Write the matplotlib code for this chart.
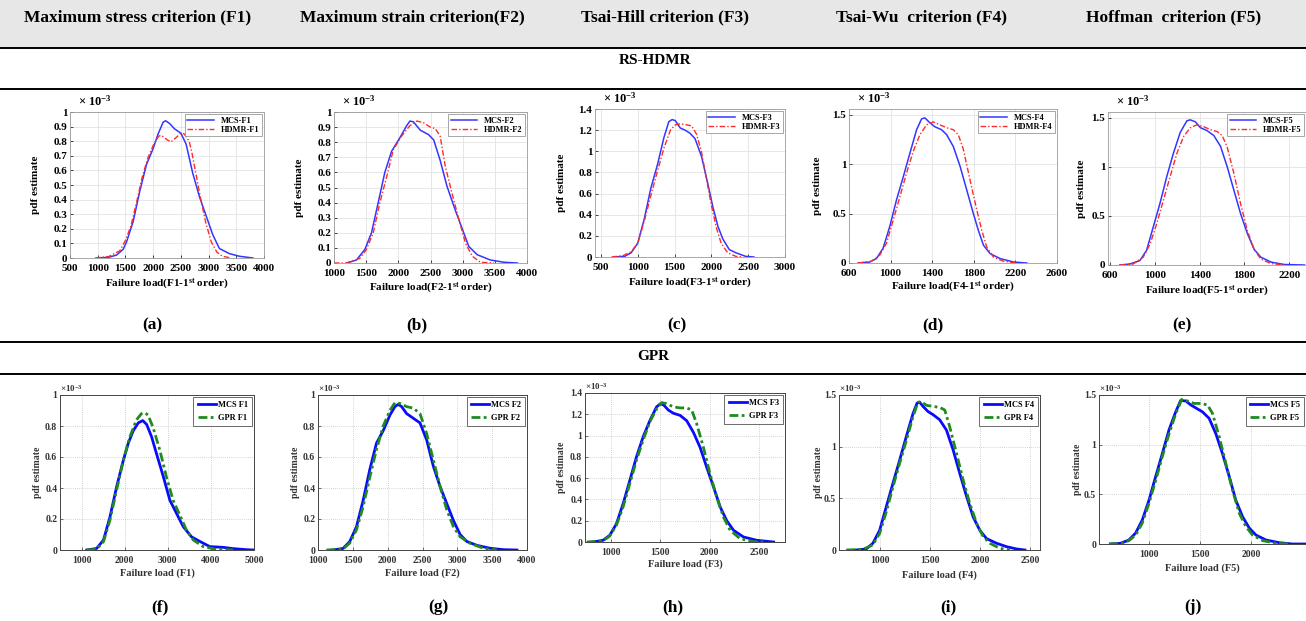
import matplotlib
matplotlib.use('Agg')
import matplotlib.pyplot as plt
from matplotlib.ticker import FuncFormatter, FixedLocator
from matplotlib.patches import Rectangle
from matplotlib.lines import Line2D

plt.rcParams['font.family'] = ['Liberation Serif', 'DejaVu Serif']
plt.rcParams['font.weight'] = 'bold'
plt.rcParams['mathtext.fontset'] = 'custom'
plt.rcParams['mathtext.rm'] = 'Liberation Serif:bold'
plt.rcParams['mathtext.it'] = 'Liberation Serif:italic:bold'
plt.rcParams['mathtext.bf'] = 'Liberation Serif:bold'

# ---------------- data (pdf values in units of 1e-3) ----------------
headers = ["Maximum stress criterion (F1)", "Maximum strain criterion(F2)",
           "Tsai-Hill criterion (F3)", "Tsai-Wu  criterion (F4)", "Hoffman  criterion (F5)"]
panel_letters = ["(a)", "(b)", "(c)", "(d)", "(e)", "(f)", "(g)", "(h)", "(i)", "(j)"]

a_xticks = [500, 1000, 1500, 2000, 2500, 3000, 3500, 4000]
b_xticks = [1000, 1500, 2000, 2500, 3000, 3500, 4000]
c_xticks = [500, 1000, 1500, 2000, 2500, 3000]
d_xticks = [600, 1000, 1400, 1800, 2200, 2600]
e_xticks = [600, 1000, 1400, 1800, 2200]
f_xticks = [1000, 2000, 3000, 4000, 5000]
g_xticks = [1000, 1500, 2000, 2500, 3000, 3500, 4000]
h_xticks = [1000, 1500, 2000, 2500]
i_xticks = [1000, 1500, 2000, 2500]
j_xticks = [1000, 1500, 2000]

a_yticks = [0, 0.1, 0.2, 0.3, 0.4, 0.5, 0.6, 0.7, 0.8, 0.9, 1.0]
b_yticks = [0, 0.1, 0.2, 0.3, 0.4, 0.5, 0.6, 0.7, 0.8, 0.9, 1.0]
c_yticks = [0, 0.2, 0.4, 0.6, 0.8, 1.0, 1.2, 1.4]
d_yticks = [0, 0.5, 1.0, 1.5]
e_yticks = [0, 0.5, 1.0, 1.5]
f_yticks = [0, 0.2, 0.4, 0.6, 0.8, 1.0]
g_yticks = [0, 0.2, 0.4, 0.6, 0.8, 1.0]
h_yticks = [0, 0.2, 0.4, 0.6, 0.8, 1.0, 1.2, 1.4]
i_yticks = [0, 0.5, 1.0, 1.5]
j_yticks = [0, 0.5, 1.0, 1.5]

a_mcs_x = [1000, 1200, 1340, 1460, 1520, 1640, 1760, 1880, 2000, 2090, 2180, 2225, 2300, 2385, 2500, 2595, 2715, 2835, 2955, 3075, 3195, 3375, 3555, 3800]
a_mcs_y = [0, 0.005, 0.02, 0.06, 0.11, 0.25, 0.46, 0.64, 0.75, 0.85, 0.93, 0.94, 0.92, 0.885, 0.855, 0.78, 0.58, 0.42, 0.29, 0.16, 0.065, 0.03, 0.012, 0]
a_hdmr_x = [950, 1200, 1400, 1500, 1600, 1700, 1800, 1900, 2000, 2100, 2150, 2250, 2320, 2400, 2500, 2560, 2650, 2700, 2750, 2850, 2950, 3050, 3150, 3250, 3400]
a_hdmr_y = [0, 0.01, 0.05, 0.12, 0.22, 0.38, 0.55, 0.68, 0.77, 0.835, 0.84, 0.81, 0.795, 0.82, 0.855, 0.85, 0.80, 0.72, 0.62, 0.42, 0.24, 0.11, 0.04, 0.012, 0]

b_mcs_x = [1200, 1350, 1480, 1583, 1687, 1790, 1895, 2025, 2130, 2180, 2235, 2340, 2470, 2550, 2650, 2755, 2885, 2990, 3095, 3225, 3430, 3640, 3850]
b_mcs_y = [0, 0.02, 0.09, 0.2, 0.4, 0.6, 0.74, 0.83, 0.91, 0.94, 0.935, 0.88, 0.85, 0.815, 0.68, 0.51, 0.35, 0.23, 0.11, 0.055, 0.02, 0.005, 0]
b_hdmr_x = [1000, 1190, 1400, 1505, 1610, 1713, 1818, 1922, 2050, 2180, 2285, 2390, 2495, 2575, 2650, 2730, 2835, 2940, 3045, 3150, 3275, 3485]
b_hdmr_y = [0, 0, 0.03, 0.09, 0.2, 0.4, 0.57, 0.75, 0.84, 0.91, 0.94, 0.93, 0.9, 0.89, 0.84, 0.64, 0.46, 0.29, 0.13, 0.045, 0.005, 0]

c_mcs_x = [667, 822, 911, 1000, 1089, 1178, 1267, 1356, 1422, 1467, 1511, 1578, 1644, 1711, 1778, 1867, 1956, 2022, 2089, 2156, 2244, 2333, 2467, 2578]
c_mcs_y = [0, 0.006, 0.04, 0.13, 0.36, 0.65, 0.87, 1.13, 1.28, 1.3, 1.29, 1.22, 1.2, 1.17, 1.12, 0.95, 0.68, 0.47, 0.29, 0.17, 0.07, 0.04, 0.006, 0]
c_hdmr_x = [644, 800, 911, 1000, 1089, 1178, 1267, 1356, 1444, 1511, 1578, 1667, 1733, 1800, 1867, 1933, 2000, 2067, 2133, 2222, 2333, 2422]
c_hdmr_y = [0, 0.013, 0.05, 0.13, 0.34, 0.58, 0.81, 1.03, 1.2, 1.25, 1.26, 1.25, 1.24, 1.16, 0.99, 0.74, 0.49, 0.28, 0.13, 0.04, 0.006, 0]

d_mcs_x = [687, 800, 864, 928, 992, 1057, 1121, 1185, 1250, 1298, 1330, 1378, 1426, 1490, 1539, 1603, 1668, 1732, 1796, 1844, 1893, 1957, 2053, 2182, 2310]
d_mcs_y = [0, 0.01, 0.045, 0.15, 0.37, 0.64, 0.87, 1.11, 1.35, 1.46, 1.47, 1.42, 1.38, 1.35, 1.3, 1.18, 0.98, 0.74, 0.5, 0.33, 0.18, 0.095, 0.045, 0.01, 0]
d_hdmr_x = [687, 815, 896, 960, 1024, 1089, 1153, 1217, 1282, 1346, 1410, 1474, 1539, 1603, 1651, 1700, 1764, 1828, 1877, 1925, 1989, 2086, 2214]
d_hdmr_y = [0, 0.017, 0.08, 0.2, 0.43, 0.67, 0.91, 1.13, 1.3, 1.4, 1.43, 1.4, 1.37, 1.35, 1.3, 1.15, 0.84, 0.54, 0.33, 0.16, 0.06, 0.017, 0]

e_mcs_x = [685, 775, 865, 925, 985, 1045, 1105, 1165, 1225, 1285, 1315, 1361, 1406, 1466, 1526, 1586, 1646, 1706, 1766, 1826, 1886, 1946, 2036, 2157, 2337]
e_mcs_y = [0, 0.01, 0.045, 0.15, 0.39, 0.63, 0.9, 1.14, 1.35, 1.47, 1.48, 1.46, 1.4, 1.37, 1.32, 1.21, 1.0, 0.76, 0.52, 0.32, 0.16, 0.08, 0.03, 0.005, 0]
e_hdmr_x = [690, 805, 895, 955, 1015, 1075, 1135, 1196, 1256, 1316, 1376, 1436, 1496, 1556, 1601, 1646, 1706, 1766, 1826, 1886, 1946, 2036, 2157]
e_hdmr_y = [0, 0.01, 0.08, 0.21, 0.42, 0.66, 0.9, 1.14, 1.31, 1.4, 1.43, 1.41, 1.38, 1.36, 1.32, 1.2, 0.93, 0.62, 0.35, 0.16, 0.06, 0.015, 0]

f_mcs_x = [1120, 1350, 1510, 1660, 1815, 1970, 2085, 2200, 2315, 2420, 2510, 2625, 2740, 2900, 3050, 3205, 3360, 3550, 3745, 3975, 4285, 4515, 4825, 5000]
f_mcs_y = [0, 0.01, 0.065, 0.215, 0.41, 0.58, 0.69, 0.77, 0.82, 0.835, 0.81, 0.73, 0.62, 0.47, 0.32, 0.235, 0.15, 0.085, 0.055, 0.022, 0.017, 0.009, 0.002, 0]
f_gpr_x = [1120, 1350, 1510, 1660, 1815, 1970, 2120, 2275, 2390, 2470, 2545, 2665, 2815, 2970, 3125, 3280, 3430, 3590, 3820, 4130, 4515]
f_gpr_y = [0, 0.005, 0.055, 0.195, 0.39, 0.58, 0.73, 0.84, 0.88, 0.885, 0.87, 0.785, 0.645, 0.47, 0.32, 0.225, 0.13, 0.065, 0.022, 0.004, 0]

g_mcs_x = [1216, 1360, 1456, 1552, 1648, 1744, 1840, 1936, 2032, 2104, 2152, 2200, 2272, 2368, 2464, 2560, 2656, 2752, 2848, 2944, 3040, 3136, 3280, 3472, 3664, 3856]
g_mcs_y = [0, 0.01, 0.055, 0.15, 0.32, 0.52, 0.69, 0.77, 0.87, 0.925, 0.94, 0.925, 0.88, 0.85, 0.82, 0.71, 0.54, 0.41, 0.3, 0.19, 0.1, 0.055, 0.03, 0.011, 0.002, 0]
g_gpr_x = [1120, 1360, 1456, 1552, 1648, 1744, 1840, 1936, 2032, 2104, 2176, 2272, 2368, 2464, 2560, 2656, 2752, 2848, 2944, 3040, 3184, 3376, 3568]
g_gpr_y = [0, 0.006, 0.045, 0.13, 0.28, 0.47, 0.65, 0.8, 0.9, 0.95, 0.946, 0.925, 0.915, 0.88, 0.75, 0.58, 0.41, 0.26, 0.15, 0.085, 0.043, 0.011, 0]

h_mcs_x = [824, 922, 990, 1057, 1125, 1193, 1260, 1328, 1395, 1463, 1503, 1537, 1581, 1632, 1700, 1767, 1835, 1902, 1970, 2037, 2105, 2172, 2240, 2341, 2476, 2645]
h_mcs_y = [0, 0.016, 0.063, 0.17, 0.36, 0.58, 0.8, 0.99, 1.14, 1.27, 1.3, 1.285, 1.24, 1.21, 1.19, 1.14, 1.03, 0.89, 0.7, 0.52, 0.33, 0.2, 0.11, 0.047, 0.016, 0]
h_gpr_x = [757, 922, 990, 1057, 1125, 1193, 1260, 1328, 1395, 1463, 1514, 1564, 1632, 1700, 1767, 1818, 1868, 1936, 2003, 2071, 2138, 2206, 2307, 2442, 2544]
h_gpr_y = [0, 0.01, 0.056, 0.157, 0.33, 0.55, 0.77, 0.96, 1.13, 1.25, 1.31, 1.3, 1.27, 1.26, 1.26, 1.24, 1.11, 0.89, 0.64, 0.42, 0.235, 0.11, 0.031, 0.003, 0]

i_mcs_x = [767, 867, 933, 1000, 1067, 1133, 1200, 1267, 1333, 1373, 1400, 1433, 1483, 1533, 1600, 1667, 1733, 1800, 1867, 1933, 2000, 2067, 2167, 2267, 2367, 2450]
i_mcs_y = [0, 0.01, 0.065, 0.19, 0.42, 0.645, 0.87, 1.1, 1.32, 1.42, 1.43, 1.39, 1.34, 1.31, 1.26, 1.16, 0.97, 0.74, 0.52, 0.32, 0.19, 0.11, 0.065, 0.032, 0.01, 0]
i_gpr_x = [667, 833, 933, 1000, 1067, 1133, 1200, 1267, 1333, 1383, 1417, 1467, 1533, 1600, 1650, 1700, 1767, 1833, 1900, 1967, 2033, 2100, 2200, 2300]
i_gpr_y = [0, 0.006, 0.05, 0.16, 0.37, 0.61, 0.84, 1.06, 1.29, 1.43, 1.435, 1.4, 1.39, 1.38, 1.355, 1.19, 0.935, 0.68, 0.45, 0.26, 0.13, 0.065, 0.016, 0]

j_mcs_x = [623, 721, 803, 869, 934, 1000, 1066, 1131, 1197, 1262, 1311, 1361, 1410, 1459, 1525, 1590, 1656, 1721, 1787, 1852, 1918, 1984, 2049, 2148, 2279, 2410, 2540]
j_mcs_y = [0, 0.007, 0.04, 0.11, 0.24, 0.44, 0.68, 0.91, 1.15, 1.33, 1.445, 1.44, 1.4, 1.37, 1.33, 1.265, 1.11, 0.91, 0.68, 0.44, 0.275, 0.16, 0.09, 0.04, 0.013, 0, 0]
j_gpr_x = [607, 738, 803, 869, 934, 1000, 1066, 1131, 1197, 1262, 1321, 1377, 1443, 1508, 1574, 1623, 1689, 1754, 1820, 1885, 1951, 2016, 2115, 2246, 2377]
j_gpr_y = [0, 0.007, 0.034, 0.09, 0.21, 0.41, 0.64, 0.88, 1.11, 1.31, 1.455, 1.44, 1.415, 1.415, 1.4, 1.315, 1.08, 0.81, 0.54, 0.31, 0.175, 0.09, 0.034, 0.007, 0]

series_top = [(a_mcs_x, a_mcs_y, a_hdmr_x, a_hdmr_y), (b_mcs_x, b_mcs_y, b_hdmr_x, b_hdmr_y),
              (c_mcs_x, c_mcs_y, c_hdmr_x, c_hdmr_y), (d_mcs_x, d_mcs_y, d_hdmr_x, d_hdmr_y),
              (e_mcs_x, e_mcs_y, e_hdmr_x, e_hdmr_y)]
series_bot = [(f_mcs_x, f_mcs_y, f_gpr_x, f_gpr_y), (g_mcs_x, g_mcs_y, g_gpr_x, g_gpr_y),
              (h_mcs_x, h_mcs_y, h_gpr_x, h_gpr_y), (i_mcs_x, i_mcs_y, i_gpr_x, i_gpr_y),
              (j_mcs_x, j_mcs_y, j_gpr_x, j_gpr_y)]
ticks_top = [(a_xticks, a_yticks), (b_xticks, b_yticks), (c_xticks, c_yticks), (d_xticks, d_yticks), (e_xticks, e_yticks)]
ticks_bot = [(f_xticks, f_yticks), (g_xticks, g_yticks), (h_xticks, h_yticks), (i_xticks, i_yticks), (j_xticks, j_yticks)]

# ---------------- layout (pixels) ----------------
W, H = 1306, 621
fig = plt.figure(figsize=(W / 100, H / 100), dpi=100)

def px_axes(x1, y1, x2, y2):
    return fig.add_axes([x1 / W, 1 - y2 / H, (x2 - x1) / W, (y2 - y1) / H])

def hline(y, lw=1.4):
    fig.add_artist(Line2D([0, 1], [1 - y / H, 1 - y / H], transform=fig.transFigure,
                          color='black', lw=lw))

fig.patches.append(Rectangle((0, 1 - 47 / H), 1, 47 / H, transform=fig.transFigure,
                             facecolor='#e7e7e7', edgecolor='none', zorder=0))
hline(48)
hline(89)
hline(342)
hline(374)

header_cx = [138, 412, 665, 921, 1174]
for t, cx in zip(headers, header_cx):
    fig.text(cx / W, 1 - 17 / H, t, ha='center', va='center', fontsize=12.5, fontweight='bold')
fig.text(655 / W, 1 - 61 / H, "RS-HDMR", ha='center', va='center', fontsize=11, fontweight='bold')
fig.text(653 / W, 1 - 357 / H, "GPR", ha='center', va='center', fontsize=11, fontweight='bold')

fmt = FuncFormatter(lambda v, p: ('%g' % round(v, 4)))

# box (px), xlim, ylim, ylabel centre x (px), xlabel centre y (px)
top_cfg = [
    ((70, 112, 264, 258), (500, 4000), (0, 1.0), 35, 284),
    ((334, 112, 527, 263), (1000, 4000), (0, 1.0), 300, 288),
    ((595, 109, 785, 257), (420, 3000), (0, 1.4), 562, 283),
    ((849, 109, 1057, 263), (600, 2600), (0, 1.56), 818, 287),
    ((1108, 112, 1306, 265), (580, 2350), (0, 1.56), 1082, 291),
]
bot_cfg = [
    ((60, 395, 254, 550), (500, 5000), (0, 1.0), 37, 573),
    ((318, 395, 527, 550), (1000, 4000), (0, 1.0), 295, 573),
    ((585, 393, 785, 542), (740, 2760), (0, 1.4), 562, 564),
    ((839, 395, 1040, 550), (595, 2600), (0, 1.5), 818, 575),
    ((1099, 395, 1306, 544), (510, 2540), (0, 1.5), 1078, 568),
]
top_letter_pos = [(152, 325), (417, 325), (677, 325), (933, 325), (1182, 325)]
bot_letter_pos = [(160, 607), (438, 607), (673, 607), (948, 607), (1193, 607)]

def style_axes(ax, cfg, ticks, row, xl_text):
    (x1, y1, x2, y2), xlim, ylim, ylx, xly = cfg
    wpx, hpx = x2 - x1, y2 - y1
    ax.set_xlim(*xlim)
    ax.set_ylim(*ylim)
    ax.xaxis.set_major_locator(FixedLocator(ticks[0]))
    ax.yaxis.set_major_locator(FixedLocator(ticks[1]))
    ax.xaxis.set_major_formatter(fmt)
    ax.yaxis.set_major_formatter(fmt)
    tc = 'black' if row == 0 else '#333333'
    ax.tick_params(direction='in', length=2, width=0.5, labelsize=8 if row == 0 else 7,
                   colors=tc, pad=2)
    ax.tick_params(axis='x', pad=4)
    for lab in ax.get_xticklabels() + ax.get_yticklabels():
        lab.set_fontweight('bold')
    if row == 0:
        ax.grid(True, color='#e3e3e3', lw=0.6, ls='-')
        for s in ax.spines.values():
            s.set_color('#9a9a9a'); s.set_linewidth(0.6)
    else:
        ax.grid(True, color='#c4c4c4', lw=0.6, ls=(0, (1, 1.5)))
        for s in ax.spines.values():
            s.set_color('#444444'); s.set_linewidth(0.7)
    ax.set_axisbelow(True)
    ax.set_ylabel('pdf estimate', fontsize=8 if row == 0 else 7, fontweight='bold',
                  va='center', color=tc)
    ax.yaxis.set_label_coords(-(x1 - ylx) / wpx, 0.5)
    ax.set_xlabel(xl_text, fontsize=8 if row == 0 else 7.5, fontweight='bold', va='center', color=tc)
    ax.xaxis.set_label_coords(0.5, -(xly - y2) / hpx)
    if row == 0:
        ax.text(0.04, 1.02, r'$\times\ 10^{-3}$', transform=ax.transAxes, fontsize=9,
                ha='left', va='bottom', color='black')
    else:
        ax.text(0.0, 1.005, r'$\times 10^{-3}$', transform=ax.transAxes, fontsize=6.5,
                ha='left', va='bottom', color='#333333')

for k in range(5):
    cfg = top_cfg[k]
    ax = px_axes(*cfg[0])
    mx, my, hx, hy = series_top[k]
    ax.plot(mx, my, color='#3535ff', lw=1.1, label='MCS-F%d' % (k + 1))
    ax.plot(hx, hy, color='#ff2a2a', lw=1.0, ls=(0, (4, 1.5, 1, 1.5)), label='HDMR-F%d' % (k + 1))
    style_axes(ax, cfg, ticks_top[k], 0, r'Failure load(F%d-1$^{\rm st}$ order)' % (k + 1))
    leg = ax.legend(loc='upper right', prop=dict(family='Liberation Serif', weight='bold', size=6),
                    frameon=True, fancybox=False, framealpha=1, edgecolor='#999999',
                    borderpad=0.3, handlelength=3.2, handletextpad=0.8, labelspacing=0.15,
                    borderaxespad=0.25)
    leg.get_frame().set_linewidth(0.6)
    lx, ly = top_letter_pos[k]
    fig.text(lx / W, 1 - ly / H, panel_letters[k], ha='center', va='center', fontsize=12.5, fontweight='bold')

for k in range(5):
    cfg = bot_cfg[k]
    ax = px_axes(*cfg[0])
    mx, my, gx, gy = series_bot[k]
    ax.plot(mx, my, color='#0a0aff', lw=2.0, label='MCS F%d' % (k + 1))
    ax.plot(gx, gy, color='#1f8a1f', lw=2.0, ls=(0, (3.2, 1.2, 1, 1.2)), label='GPR F%d' % (k + 1))
    style_axes(ax, cfg, ticks_bot[k], 1, 'Failure load (F%d)' % (k + 1))
    leg = ax.legend(loc='upper right', prop=dict(family='Liberation Serif', weight='bold', size=6),
                    frameon=True, fancybox=False, framealpha=1, edgecolor='#555555',
                    borderpad=0.5, handlelength=2.2, handletextpad=0.2, labelspacing=0.6,
                    borderaxespad=0.25)
    leg.get_frame().set_linewidth(0.6)
    lx, ly = bot_letter_pos[k]
    fig.text(lx / W, 1 - ly / H, panel_letters[k + 5], ha='center', va='center', fontsize=12.5, fontweight='bold')

fig.savefig('out.png', dpi=100)
